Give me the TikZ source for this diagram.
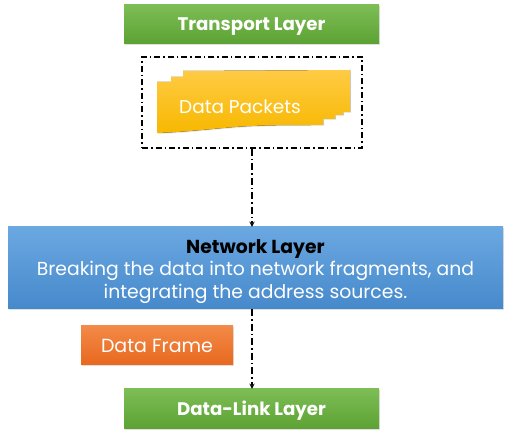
\documentclass[tikz,border=0pt]{standalone}
\usepackage{fontspec}
\setmainfont{Poppins}
\usetikzlibrary{arrows,positioning,calc}
\usetikzlibrary{shadows}

\definecolor{greentop}{HTML}{7DBD55}
\definecolor{greenbot}{HTML}{5CA233}
\definecolor{bluetop}{HTML}{6BA8E2}
\definecolor{bluebot}{HTML}{4689CB}
\definecolor{orangetop}{HTML}{F28A48}
\definecolor{orangebot}{HTML}{E8681E}
\definecolor{yellowtop}{HTML}{FFCB45}
\definecolor{yellowbot}{HTML}{F7B800}

\tikzset{
  layer/.style={minimum height=39pt, inner sep=0pt, text=white,
    text height=13pt, text depth=0pt,
    font=\fontsize{18.2}{20}\selectfont\bfseries,
    top color=greentop, bottom color=greenbot,
    drop shadow={opacity=0.25, shadow xshift=1pt, shadow yshift=-1pt}},
  flowline/.style={line width=1.3pt, dash pattern=on 7pt off 3pt on 1.5pt off 3pt}
}

\begin{document}
\begin{tikzpicture}[x=1pt,y=-1pt]

      \useasboundingbox (0,0) rectangle (512,435);

      \node[layer, minimum width=255pt] at (251.5,24.5) (transport) {Transport Layer};

      \node[draw, line width=1.3pt, dash pattern=on 6pt off 3pt on 1.5pt off 3pt,
            minimum width=220pt, minimum height=91pt] at (252,102.5) (packetbox) {};

      % paper shape of the packets
      \fill[top color=yellowtop, bottom color=yellowbot,
            drop shadow={opacity=0.2, shadow xshift=1pt, shadow yshift=-1pt}]
        (157,82) -- (171,82) -- (171,77) -- (183,77) -- (183,71)
        -- (350,70) -- (350,112) -- (343,112) -- (343,115) -- (335,115)
        -- (335,119) -- (323,119) -- (323,125)
        .. controls (290,125) and (260,125) .. (235,127)
        .. controls (210,129) and (185,132) .. (157,133) -- cycle;
      \node[text=white, text height=13pt, text depth=0pt,
            font=\fontsize{18.5}{22}\selectfont] at (240,107.5) (packets) {Data Packets};

      \node[minimum width=495pt, minimum height=82pt, inner sep=0pt,
            top color=bluetop, bottom color=bluebot,
            drop shadow={opacity=0.25, shadow xshift=1pt, shadow yshift=-1pt}]
            at (255.5,268) (network) {};
      \node[align=center, font=\fontsize{18.8}{22.5}\selectfont, text=white]
            at ([yshift=-3.5pt]network.center) (networktext)
            {\textcolor{black}{\bfseries Network Layer}\\
             Breaking the data into network fragments, and\\
             integrating the address sources.};

      \node[minimum width=152pt, minimum height=39pt, inner sep=0pt,
            top color=orangetop, bottom color=orangebot, text=white,
            text height=13.5pt, text depth=0pt,
            font=\fontsize{19}{22}\selectfont,
            drop shadow={opacity=0.25, shadow xshift=1pt, shadow yshift=-1pt}]
            at (157,345.5) (frame) {Data Frame};

      \node[layer, minimum width=255pt, minimum height=40pt] at (251.5,409) (datalink) {Data-Link Layer};

      \draw[flowline,-stealth] (packetbox.south)--(network.north -| packetbox.south);
      \draw[flowline,-stealth] (network.south -| packetbox.south)--(datalink.north -| packetbox.south);

    \end{tikzpicture}
\end{document}
